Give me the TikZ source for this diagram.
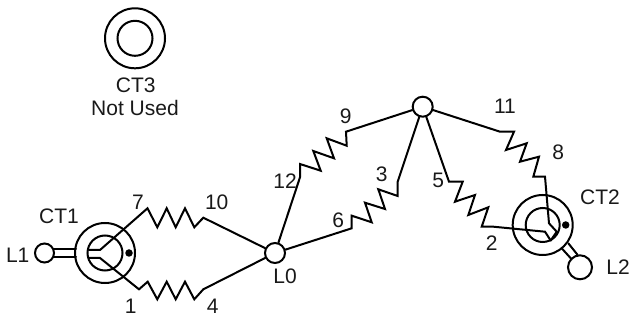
\documentclass[tikz,border=0pt]{standalone}
\usepackage{fontspec}
\setmainfont{Liberation Sans}
\tikzset{
  wire/.style={line width=2pt, line join=miter, line cap=round},
  ring/.style={circle, draw, line width=2pt, inner sep=0pt, fill=white},
  lbl/.style={inner sep=0pt, font=\fontsize{21}{23}\selectfont, text=black!90},
  dotn/.style={circle, fill=black, inner sep=0pt, minimum size=7.5pt}
}
\begin{document}
\begin{tikzpicture}[x=1pt,y=-1pt]
\useasboundingbox (0,0) rectangle (629,320);
% CT3
\node[ring, minimum size=60pt] (ct3o) at (135,38.3) {};
\node[ring, minimum size=35pt] (ct3i) at (135,38.3) {};
\node[lbl] (ct3l) at (135.7,85) {CT3};
\node[lbl] (nu) at (135,108) {Not Used};
% CT1
\node[ring, minimum size=60pt] (ct1o) at (105,253) {};
\node[ring, minimum size=35pt] (ct1i) at (105,253) {};
\node[dotn] (ct1d) at (129,253) {};
\node[ring, minimum size=19pt] (l1) at (44.5,253) {};
\coordinate (d1a) at (54,249);
\coordinate (d1b) at (54,257);
\draw[wire] (d1a) -- (76,249);
\draw[wire] (d1b) -- (76,257);
% junctions
\node[ring, minimum size=20pt] (l0) at (275,253) {};
\node[ring, minimum size=20pt] (top) at (422.7,106.7) {};
% CT2
\node[ring, minimum size=60pt] (ct2o) at (542.7,225) {};
\node[ring, minimum size=34pt] (ct2i) at (542.7,225) {};
\node[dotn] (ct2d) at (565.7,225) {};
\node[ring, minimum size=24pt] (l2) at (580,267.3) {};
\draw[wire] (561.7,248.3) -- (571.7,259.3);
\draw[wire] (568.3,243.3) -- (577.7,255);
% CT wire ends
\coordinate (a1) at (89,250);
\coordinate (a2) at (89,258);
\coordinate (b1) at (550.7,240.5);
% CT1 to L0
\draw[wire] (a1) -- (100,250) -- (147.5,208.3) -- (157.3,227.3) -- (166.7,208.3) -- (175.7,227.3) -- (185,208.3) -- (194.3,227.3) -- (203.3,217.7) -- (l0);
\draw[wire] (a2) -- (100,258) -- (139,289.3) -- (147.7,281.7) -- (157.3,299.3) -- (166.7,281.7) -- (175.7,299.3) -- (185,281.7) -- (194.3,299.3) -- (203.3,289.3) -- (l0);
% L0 to top
\draw[wire] (l0) -- (300,177.3) -- (300,164) -- (320.7,170.7) -- (313.3,151) -- (334,158.3) -- (326.7,138.3) -- (346.7,145.7) -- (346,131.7) -- (top);
\draw[wire] (l0) -- (351.7,228.3) -- (351.7,215.7) -- (371.7,222.3) -- (365,202.7) -- (385,209) -- (378.3,189.3) -- (397.7,196) -- (397.7,181.7) -- (top);
% top to CT2
\draw[wire] (top) -- (500,131.7) -- (514,131.7) -- (506,150) -- (526.7,143.3) -- (520,161.7) -- (539,156.7) -- (533.3,176.7) -- (545,176.7) -- (549,223.3) -- (556.7,231.7) -- (b1);
\draw[wire] (top) -- (449,181.7) -- (462.7,181.7) -- (455,201.7) -- (475,195) -- (468.3,215) -- (488.3,207.3) -- (481.7,226.7) -- (493.3,226.7) -- (545,231.7) -- (b1);
% labels
\node[lbl] (tct1) at (59,216.7) {CT1};
\node[lbl] (tl1) at (17.7,255) {L1};
\node[lbl] (t7) at (138,202) {7};
\node[lbl] (t10) at (216.7,202) {10};
\node[lbl] (t1) at (130.7,306.7) {1};
\node[lbl] (t4) at (212.7,306.7) {4};
\node[lbl] (tl0) at (285,276) {L0};
\node[lbl] (t12) at (285,181) {12};
\node[lbl] (t9) at (345.7,116.7) {9};
\node[lbl] (t3) at (381.7,174) {3};
\node[lbl] (t6) at (338.3,220) {6};
\node[lbl] (t11) at (505,106.7) {11};
\node[lbl] (t8) at (558.3,152.7) {8};
\node[lbl] (t5) at (438.3,180.7) {5};
\node[lbl] (t2) at (491.7,242.7) {2};
\node[lbl] (tct2) at (600,197.3) {CT2};
\node[lbl] (tl2) at (618,267.3) {L2};
\end{tikzpicture}
\end{document}
